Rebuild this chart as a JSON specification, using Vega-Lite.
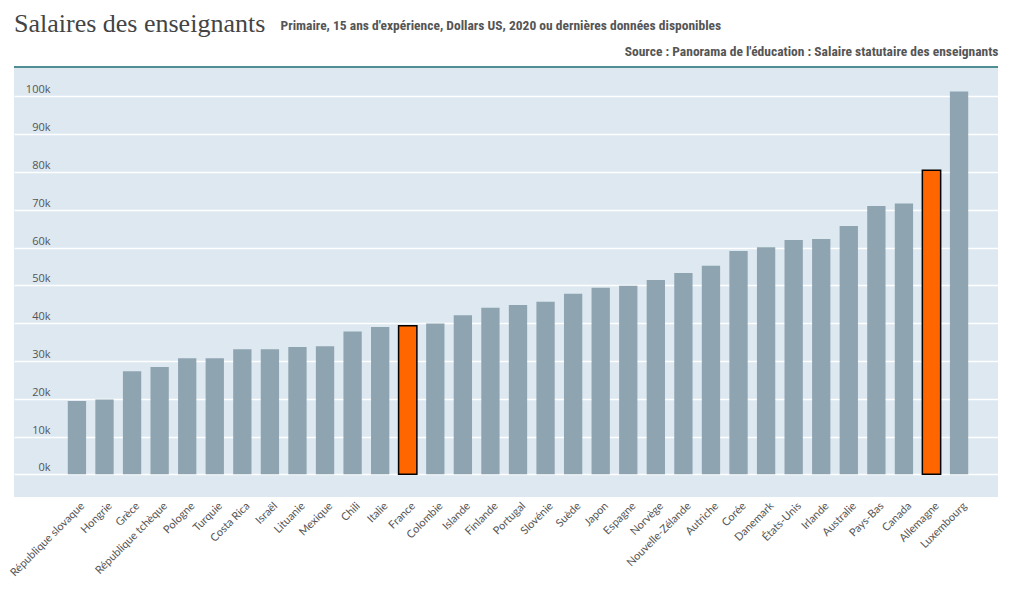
{
  "$schema": "https://vega.github.io/schema/vega-lite/v6.json",
  "autosize": {"type": "none"},
  "padding": {"left": 14, "top": 67, "right": 14, "bottom": 97},
  "width": 984,
  "height": 430,
  "background": "#ffffff",
  "title": {
    "text": "Salaires des enseignants",
    "anchor": "start",
    "frame": "group",
    "orient": "top",
    "baseline": "alphabetic",
    "offset": 0,
    "dy": 39,
    "font": "Liberation Serif",
    "fontSize": 26,
    "fontWeight": "normal",
    "color": "#444444"
  },
  "config": {
    "view": {"fill": "#dde8f0", "stroke": null}
  },
  "data": {
    "values": [
      {"pays": "République slovaque", "salaire": 19400},
      {"pays": "Hongrie", "salaire": 19800},
      {"pays": "Grèce", "salaire": 27300},
      {"pays": "République tchèque", "salaire": 28400},
      {"pays": "Pologne", "salaire": 30700},
      {"pays": "Turquie", "salaire": 30700},
      {"pays": "Costa Rica", "salaire": 33100},
      {"pays": "Israël", "salaire": 33100},
      {"pays": "Lituanie", "salaire": 33700},
      {"pays": "Mexique", "salaire": 33900},
      {"pays": "Chili", "salaire": 37800},
      {"pays": "Italie", "salaire": 39000},
      {"pays": "France", "salaire": 39300},
      {"pays": "Colombie", "salaire": 39900},
      {"pays": "Islande", "salaire": 42100},
      {"pays": "Finlande", "salaire": 44100},
      {"pays": "Portugal", "salaire": 44800},
      {"pays": "Slovénie", "salaire": 45700},
      {"pays": "Suède", "salaire": 47800},
      {"pays": "Japon", "salaire": 49400},
      {"pays": "Espagne", "salaire": 49900},
      {"pays": "Norvège", "salaire": 51400},
      {"pays": "Nouvelle-Zélande", "salaire": 53300},
      {"pays": "Autriche", "salaire": 55200},
      {"pays": "Corée", "salaire": 59100},
      {"pays": "Danemark", "salaire": 60100},
      {"pays": "États-Unis", "salaire": 62000},
      {"pays": "Irlande", "salaire": 62300},
      {"pays": "Australie", "salaire": 65700},
      {"pays": "Pays-Bas", "salaire": 71000},
      {"pays": "Canada", "salaire": 71700},
      {"pays": "Allemagne", "salaire": 80500},
      {"pays": "Luxembourg", "salaire": 101300}
    ]
  },
  "resolve": {"scale": {"x": "independent"}, "axis": {"y": "independent"}},
  "layer": [
    {
      "mark": {"type": "bar"},
      "encoding": {
        "x": {
          "field": "pays",
          "type": "nominal",
          "sort": null,
          "scale": {"range": [40, 968], "paddingInner": 0.336, "paddingOuter": 0.5},
          "axis": {
            "title": "Source : Panorama de l'éducation : Salaire statutaire des enseignants",
            "titleX": 984,
            "titleY": -442,
            "titleAlign": "right",
            "titleAnchor": null,
            "titleBaseline": "alphabetic",
            "titleAngle": 0,
            "titleFont": "Liberation Sans Narrow, Roboto Condensed, Roboto",
            "titleFontSize": 13.5,
            "titleFontWeight": "bold",
            "titleColor": "#555555",
            "labelAngle": -45,
            "labelAlign": "right",
            "labelBaseline": "middle",
            "labelFont": "Lato",
            "labelFontSize": 11,
            "labelColor": "#555555",
            "labelPadding": 7,
            "labelOffset": 6,
            "ticks": false,
            "domain": false,
            "grid": false,
            "labelOverlap": false
          }
        },
        "y": {
          "field": "salaire",
          "type": "quantitative",
          "scale": {"domain": [-6000, 107800], "nice": false, "zero": false},
          "axis": null
        },
        "color": {
          "condition": {"test": "datum.pays === 'France' || datum.pays === 'Allemagne'", "value": "#ff6600"},
          "value": "#8fa4b1"
        },
        "stroke": {
          "condition": {"test": "datum.pays === 'France' || datum.pays === 'Allemagne'", "value": "#000000"},
          "value": null
        },
        "strokeWidth": {
          "condition": {"test": "datum.pays === 'France' || datum.pays === 'Allemagne'", "value": 1.5},
          "value": 0
        }
      }
    },
    {
      "mark": {"type": "rule", "color": "#4f8f94", "strokeWidth": 1.5},
      "encoding": {
        "y": {
          "datum": 107800,
          "type": "quantitative",
          "scale": {"domain": [-6000, 107800], "nice": false, "zero": false},
          "axis": {
            "orient": "left",
            "title": "Primaire, 15 ans d'expérience, Dollars US, 2020 ou dernières données disponibles",
            "titleX": 230,
            "titleY": -37.5,
            "titleAngle": 0,
            "titleAlign": "left",
            "titleAnchor": null,
            "titleBaseline": "alphabetic",
            "titleFont": "Liberation Sans Narrow, Roboto Condensed, Roboto",
            "titleFontSize": 13.5,
            "titleFontWeight": "bold",
            "titleColor": "#555555",
            "values": [0, 10000, 20000, 30000, 40000, 50000, 60000, 70000, 80000, 90000, 100000],
            "labelExpr": "(datum.value / 1000) + 'k'",
            "offset": -36,
            "labelAlign": "right",
            "labelBaseline": "alphabetic",
            "labelOffset": -3.5,
            "labelPadding": 0,
            "labelFont": "Open Sans",
            "labelFontSize": 11,
            "labelColor": "#555555",
            "ticks": false,
            "tickSize": 0,
            "domain": false,
            "grid": true,
            "gridColor": "#ffffff",
            "gridWidth": 1.5,
            "gridOpacity": 1
          }
        }
      }
    }
  ]
}
